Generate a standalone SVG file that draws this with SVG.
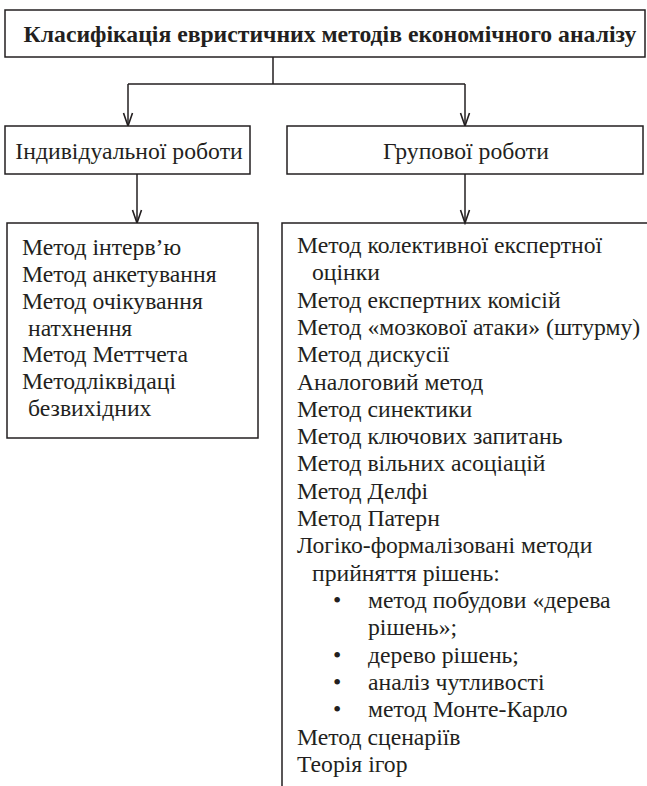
<svg xmlns="http://www.w3.org/2000/svg" width="647" height="786" viewBox="0 0 647 786">
<defs>
<style>
.box{fill:#fff;stroke:#231f20;stroke-width:1.5}
.ln{fill:none;stroke:#231f20;stroke-width:1.5}
.t{font-family:"Liberation Serif","Times New Roman",serif;font-size:23.7px;fill:#231f20}
.h{font-family:"Liberation Serif","Times New Roman",serif;font-size:23.7px;font-weight:bold;fill:#231f20}
</style>
<marker id="arr" markerUnits="userSpaceOnUse" markerWidth="16" markerHeight="12" refX="14" refY="6" orient="auto" viewBox="0 0 16 12">
<path d="M1,1.5 L14,6 L1,10.5" fill="none" stroke="#231f20" stroke-width="1.6"/>
</marker>
</defs>
<rect width="647" height="786" fill="#fff"/>
<g id="connectors">
<path class="ln" d="M273,57 V84 M128,84 H465"/>
<path class="ln" d="M128,84 V126" marker-end="url(#arr)"/>
<path class="ln" d="M465,84 V126" marker-end="url(#arr)"/>
<path class="ln" d="M137,174 V223" marker-end="url(#arr)"/>
<path class="ln" d="M465,174 V223" marker-end="url(#arr)"/>
</g>
<g id="title">
<rect class="box" x="5" y="10" width="640" height="47"/>
<text class="h" x="330" y="42" text-anchor="middle">Класифікація евристичних методів економічного аналізу</text>
</g>
<g id="individual">
<rect class="box" x="5" y="126" width="245" height="48"/>
<text class="t" x="129" y="159" text-anchor="middle">Індивідуальної роботи</text>
</g>
<g id="group">
<rect class="box" x="287" y="126" width="356" height="48"/>
<text class="t" x="466" y="159" text-anchor="middle">Групової роботи</text>
</g>
<g id="individual-list">
<rect class="box" x="7" y="223" width="251" height="215"/>
<text class="t" x="22" y="255">Метод інтерв’ю</text>
<text class="t" x="22" y="282">Метод анкетування</text>
<text class="t" x="22" y="309">Метод очікування</text>
<text class="t" x="28" y="336">натхнення</text>
<text class="t" x="22" y="362">Метод Меттчета</text>
<text class="t" x="22" y="389">Методліквідаці</text>
<text class="t" x="28" y="416">безвихідних</text>
</g>
<g id="group-list">
<path class="ln" d="M282,786 V223 H647"/>
<text class="t" x="297" y="253">Метод колективної експертної</text>
<text class="t" x="312" y="280">оцінки</text>
<text class="t" x="297" y="308">Метод експертних комісій</text>
<text class="t" x="297" y="335">Метод «мозкової атаки» (штурму)</text>
<text class="t" x="297" y="362">Метод дискусії</text>
<text class="t" x="297" y="390">Аналоговий метод</text>
<text class="t" x="297" y="417">Метод синектики</text>
<text class="t" x="297" y="444">Метод ключових запитань</text>
<text class="t" x="297" y="471">Метод вільних асоціацій</text>
<text class="t" x="297" y="499">Метод Делфі</text>
<text class="t" x="297" y="526">Метод Патерн</text>
<text class="t" x="297" y="553">Логіко-формалізовані методи</text>
<text class="t" x="312" y="581">прийняття рішень:</text>
<text class="t" x="333" y="608">•</text>
<text class="t" x="368" y="608">метод побудови «дерева</text>
<text class="t" x="368" y="635">рішень»;</text>
<text class="t" x="333" y="663">•</text>
<text class="t" x="368" y="663">дерево рішень;</text>
<text class="t" x="333" y="690">•</text>
<text class="t" x="368" y="690">аналіз чутливості</text>
<text class="t" x="333" y="717">•</text>
<text class="t" x="368" y="717">метод Монте-Карло</text>
<text class="t" x="297" y="745">Метод сценаріїв</text>
<text class="t" x="297" y="772">Теорія ігор</text>
</g>
</svg>
